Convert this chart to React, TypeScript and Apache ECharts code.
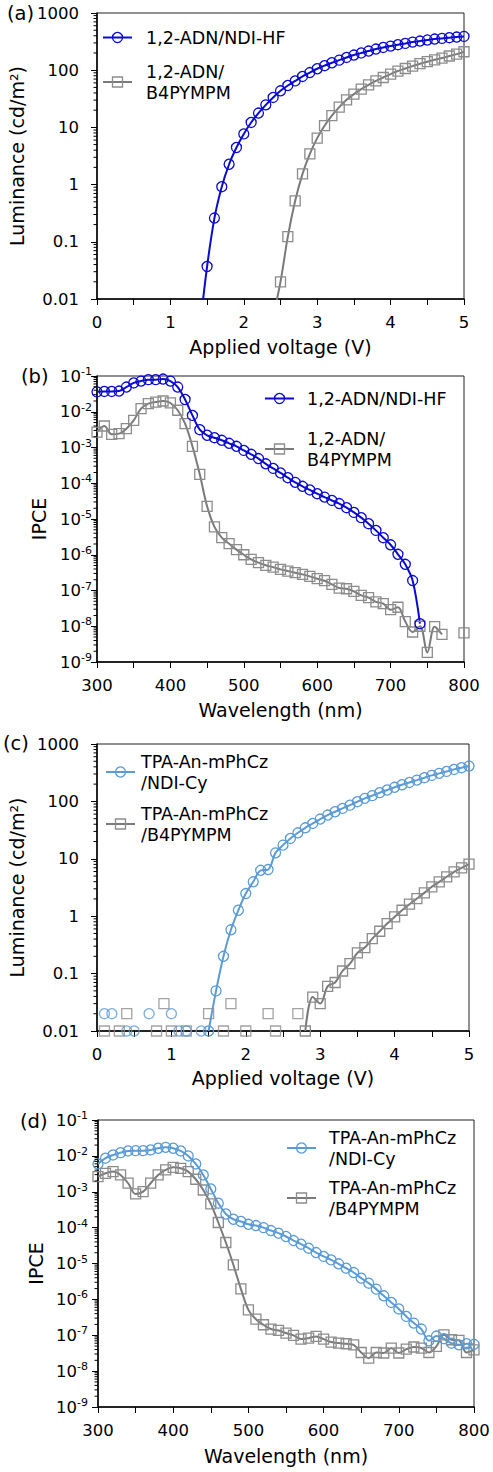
import React, { useEffect, useRef } from 'react';
import * as echarts from 'echarts';

const FONT = 'DejaVu Sans, Verdana, sans-serif';
const BLUE = '#0a0ad0';
const LBLUE = '#5b9bd5';
const GRAY = '#7a7a7a';
const GRAY_SYM = '#8c8c8c';

// ---------- (a) luminance, 1,2-ADN ----------
const aBlueV = [1.4, 1.5, 1.6, 1.7, 1.8, 1.9, 2.0, 2.1, 2.2, 2.3, 2.4, 2.5, 2.6, 2.7, 2.8, 2.9, 3.0, 3.1, 3.2, 3.3, 3.4, 3.5, 3.6, 3.7, 3.8, 3.9, 4.0, 4.1, 4.2, 4.3, 4.4, 4.5, 4.6, 4.7, 4.8, 4.9, 5.0];
const aBlueL = [0.003, 0.037, 0.26, 0.92, 2.27, 4.45, 7.7, 12.2, 17.8, 24.8, 33.4, 43.6, 54, 65, 77.8, 91, 106, 120, 135, 150, 167, 184, 200, 216, 234, 250, 264, 279, 294, 310, 323, 337, 350, 360, 370, 380, 390];
const aGrayV = [2.4, 2.5, 2.6, 2.7, 2.8, 2.9, 3.0, 3.1, 3.2, 3.3, 3.4, 3.5, 3.6, 3.7, 3.8, 3.9, 4.0, 4.1, 4.2, 4.3, 4.4, 4.5, 4.6, 4.7, 4.8, 4.9, 5.0];
const aGrayL = [0.005, 0.02, 0.123, 0.52, 1.54, 3.45, 6.5, 10.7, 16, 22.6, 30.4, 38.2, 46.8, 55.6, 65, 74.6, 85.5, 96.6, 107, 118, 130, 141, 152, 163, 177, 191, 210];

// ---------- (b) IPCE, 1,2-ADN ----------
const bBlueW = [300, 310, 320, 330, 340, 350, 360, 370, 380, 390, 400, 410, 420, 430, 440, 450, 460, 470, 480, 490, 500, 510, 520, 530, 540, 550, 560, 570, 580, 590, 600, 610, 620, 630, 640, 650, 660, 670, 680, 690, 700, 710, 720, 730, 740];
const bBlueI = [3.6e-2, 3.7e-2, 3.7e-2, 3.8e-2, 4.9e-2, 6.4e-2, 7.2e-2, 7.9e-2, 7.9e-2, 8.2e-2, 7.2e-2, 4.9e-2, 2.2e-2, 7.9e-3, 3.15e-3, 2.2e-3, 1.88e-3, 1.59e-3, 1.31e-3, 1.08e-3, 8.3e-4, 6.45e-4, 4.9e-4, 3.5e-4, 2.6e-4, 1.94e-4, 1.43e-4, 1.06e-4, 8.2e-5, 6.5e-5, 5.1e-5, 4.1e-5, 3.3e-5, 2.7e-5, 2.07e-5, 1.53e-5, 1.09e-5, 7.4e-6, 4.8e-6, 3.0e-6, 1.9e-6, 1.03e-6, 5.4e-7, 1.9e-7, 1.18e-8];
const bGrayW = [300, 310, 320, 330, 340, 350, 360, 370, 380, 390, 400, 410, 420, 430, 440, 450, 460, 470, 480, 490, 500, 510, 520, 530, 540, 550, 560, 570, 580, 590, 600, 610, 620, 630, 640, 650, 660, 670, 680, 690, 700, 710, 720, 730, 740, 750, 760, 770, 780, 790, 800];
const bGrayI = [2.7e-3, 4.0e-3, 2.33e-3, 2.44e-3, 3.36e-3, 5.75e-3, 1.22e-2, 1.68e-2, 1.87e-2, 2.0e-2, 1.76e-2, 1.1e-2, 4.65e-3, 1.08e-3, 1.78e-4, 2.26e-5, 6.0e-6, 3.0e-6, 2.04e-6, 1.39e-6, 1.0e-6, 7.4e-7, 6.0e-7, 5.06e-7, 4.5e-7, 3.9e-7, 3.5e-7, 3.15e-7, 2.83e-7, 2.49e-7, 2.14e-7, 1.88e-7, 1.49e-7, 1.17e-7, 1.12e-7, 9.5e-8, 7.3e-8, 6.3e-8, 4.8e-8, 4.3e-8, 2.9e-8, 3.4e-8, 1.35e-8, 6.9e-9, 1.0e-8, 1.85e-9, 9.7e-9, 5.9e-9, null, null, 6.5e-9];

// ---------- (c) luminance, TPA-An-mPhCz ----------
const cBlueV = [1.5, 1.6, 1.7, 1.8, 1.9, 2.0, 2.1, 2.2, 2.3, 2.4, 2.5, 2.6, 2.7, 2.8, 2.9, 3.0, 3.1, 3.2, 3.3, 3.4, 3.5, 3.6, 3.7, 3.8, 3.9, 4.0, 4.1, 4.2, 4.3, 4.4, 4.5, 4.6, 4.7, 4.8, 4.9, 5.0];
const cBlueL = [0.01, 0.05, 0.2, 0.58, 1.27, 2.48, 3.97, 6.3, 6.5, 12.7, 17.3, 22.6, 28.4, 34.7, 41.3, 49.2, 57.8, 66, 75.5, 86, 98.7, 113, 126, 142, 158, 176, 195, 214, 235, 259, 284, 308, 333, 361, 386, 413];
const cBlueNoiseV = [0.1, 0.2, 0.4, 0.5, 0.7, 1.0, 1.1, 1.2, 1.4];
const cBlueNoiseL = [0.02, 0.02, 0.01, 0.01, 0.02, 0.02, 0.01, 0.01, 0.01];
const cGrayV = [2.8, 2.9, 3.0, 3.1, 3.2, 3.3, 3.4, 3.5, 3.6, 3.7, 3.8, 3.9, 4.0, 4.1, 4.2, 4.3, 4.4, 4.5, 4.6, 4.7, 4.8, 4.9, 5.0];
const cGrayL = [0.01, 0.039, 0.03, 0.06, 0.07, 0.111, 0.149, 0.229, 0.284, 0.407, 0.547, 0.744, 0.97, 1.27, 1.62, 2.03, 2.55, 3.25, 3.97, 4.86, 5.93, 6.97, 8.07];
const cGrayNoiseV = [0.1, 0.3, 0.4, 0.8, 0.9, 1.0, 1.2, 1.5, 1.7, 1.8, 2.0, 2.3, 2.4, 2.7];
const cGrayNoiseL = [0.01, 0.01, 0.02, 0.01, 0.03, 0.01, 0.01, 0.02, 0.01, 0.03, 0.01, 0.02, 0.01, 0.02];

// ---------- (d) IPCE, TPA-An-mPhCz ----------
const dW = [300, 310, 320, 330, 340, 350, 360, 370, 380, 390, 400, 410, 420, 430, 440, 450, 460, 470, 480, 490, 500, 510, 520, 530, 540, 550, 560, 570, 580, 590, 600, 610, 620, 630, 640, 650, 660, 670, 680, 690, 700, 710, 720, 730, 740, 750, 760, 770, 780, 790, 800];
const dBlueI = [5.96e-3, 8.6e-3, 1.06e-2, 1.23e-2, 1.37e-2, 1.4e-2, 1.4e-2, 1.46e-2, 1.63e-2, 1.73e-2, 1.63e-2, 1.37e-2, 9.96e-3, 5.96e-3, 2.94e-3, 1.2e-3, 4.8e-4, 2.4e-4, 1.71e-4, 1.48e-4, 1.24e-4, 1.14e-4, 1.0e-4, 8.3e-5, 7.0e-5, 5.65e-5, 4.37e-5, 3.45e-5, 2.67e-5, 2.02e-5, 1.57e-5, 1.26e-5, 9.8e-6, 7.4e-6, 5.6e-6, 3.9e-6, 2.83e-6, 1.93e-6, 1.26e-6, 8.2e-7, 5.4e-7, 3.35e-7, 2.18e-7, 1.49e-7, 7.0e-8, 9.5e-8, 8.0e-8, 6.0e-8, 5.4e-8, 5.8e-8, 5.6e-8];
const dGrayI = [2.64e-3, 3.27e-3, 3.64e-3, 2.94e-3, 1.73e-3, 8.7e-4, 1.01e-3, 1.73e-3, 2.94e-3, 4.06e-3, 4.8e-3, 4.5e-3, 3.64e-3, 2.23e-3, 1.12e-3, 4.6e-4, 1.39e-4, 3.85e-5, 9.2e-6, 1.97e-6, 5.1e-7, 2.8e-7, 1.96e-7, 1.49e-7, 1.36e-7, 1.15e-7, 9.9e-8, 7.8e-8, 8.3e-8, 9.3e-8, 7.8e-8, 6.45e-8, 6.05e-8, 5.8e-8, 5.4e-8, 3.3e-8, 2.3e-8, 3.3e-8, 3.2e-8, 4.4e-8, 3.2e-8, 4.1e-8, 4.7e-8, 4.4e-8, 3.3e-8, 4.9e-8, 1.03e-7, 7.5e-8, 7.2e-8, 3.3e-8, 3.9e-8];

// tick labels
const lumTicks = ['0.01', '0.1', '1', '10', '100', '1000'];
const minorMultipliers = [2, 3, 4, 5, 6, 7, 8, 9];

const NAME_A1 = '1,2-ADN/NDI-HF';
const NAME_A2 = '1,2-ADN/\nB4PYMPM';
const NAME_C1 = 'TPA-An-mPhCz\n/NDI-Cy';
const NAME_C2 = 'TPA-An-mPhCz\n/B4PYMPM';

const zip = (xs: number[], ys: (number | null)[]) => xs.map((x, i) => [x, ys[i] == null ? '-' : ys[i]]);

const grids = [
  { left: 97, top: 13, width: 367, height: 286 },
  { left: 97, top: 376, width: 367, height: 286 },
  { left: 97, top: 744, width: 372, height: 287 },
  { left: 98, top: 1120, width: 376, height: 287 },
];

function minorValues(expMin: number, expMax: number) {
  const out: number[] = [];
  for (let e = expMin; e < expMax; e++) {
    for (const m of minorMultipliers) out.push(Number((m * Math.pow(10, e)).toPrecision(3)));
  }
  return out;
}

export default function App() {
  const ref = useRef<HTMLDivElement>(null);
  useEffect(() => {
    document.body.style.margin = '0';
    if (!ref.current) return;
    const chart = echarts.init(ref.current, undefined, { renderer: 'svg' });

    const tickLabel = { color: '#000', fontFamily: FONT, fontSize: 16.5 };
    const nameStyle = { color: '#000', fontFamily: FONT, fontSize: 19 };
    const axisLine = { show: true, lineStyle: { color: '#000', width: 1.5 } };
    const axisTick = { show: true, inside: false, length: 6, lineStyle: { color: '#000', width: 1 } };

    const lumFmt = (v: number) => {
      const e = Math.round(Math.log10(v));
      return lumTicks[e + 2] ?? '';
    };
    const expFmt = (v: number) => {
      const e = Math.round(Math.log10(v));
      return '{b|10}{s|' + e + '}';
    };
    const expRich = {
      b: { fontSize: 16.5, fontFamily: FONT, color: '#000', lineHeight: 20 },
      s: { fontSize: 11, fontFamily: FONT, color: '#000', verticalAlign: 'top', lineHeight: 12 },
    };

    const xVolt = (i: number, gap: number, labelMargin: number) => ({
      type: 'value', gridIndex: i, min: 0, max: 5, interval: 0.5,
      name: 'Applied voltage (V)', nameLocation: 'middle', nameGap: gap, nameTextStyle: nameStyle,
      axisLine, axisTick, splitLine: { show: false },
      axisLabel: { ...tickLabel, margin: labelMargin, formatter: (v: number) => (Math.abs(v - Math.round(v)) < 1e-6 ? String(Math.round(v)) : '') },
    });
    const xWave = (i: number, gap: number, labelMargin: number) => ({
      type: 'value', gridIndex: i, min: 300, max: 800, interval: 50,
      name: 'Wavelength (nm)', nameLocation: 'middle', nameGap: gap, nameTextStyle: nameStyle,
      axisLine, axisTick, splitLine: { show: false },
      axisLabel: { ...tickLabel, margin: labelMargin, formatter: (v: number) => (v % 100 === 0 ? String(v) : '') },
    });
    const yLum = (i: number, gap: number) => ({
      type: 'log', logBase: 10, gridIndex: i, min: 0.01, max: 1000, splitNumber: 5,
      name: 'Luminance (cd/m²)', nameLocation: 'middle', nameGap: gap, nameRotate: 90, nameTextStyle: nameStyle,
      axisLine, axisTick, splitLine: { show: false }, minorTick: { show: false },
      axisLabel: { ...tickLabel, margin: 18, formatter: lumFmt },
    });
    const yIpce = (i: number, gap: number, margin: number) => ({
      type: 'log', logBase: 10, gridIndex: i, min: 1e-9, max: 1e-1, splitNumber: 8,
      name: 'IPCE', nameLocation: 'middle', nameGap: gap, nameRotate: 90, nameTextStyle: nameStyle,
      axisLine, axisTick, splitLine: { show: false }, minorTick: { show: false },
      axisLabel: { ...tickLabel, margin, formatter: expFmt, rich: expRich },
    });

    const lineSeries = (name: string, i: number, data: any[], color: string, symColor: string, symbol: string, clip: boolean) => ({
      type: 'line', name, xAxisIndex: i, yAxisIndex: i, data,
      smooth: 0.35, clip, symbol, symbolSize: 10, showAllSymbol: true,
      lineStyle: { color, width: 2 },
      itemStyle: { color: 'rgba(0,0,0,0)', borderColor: symColor, borderWidth: 1.3 },
      emphasis: { disabled: true }, z: 3,
    });
    const noiseSeries = (name: string, i: number, data: any[], symColor: string, symbol: string) => ({
      type: 'scatter', name, xAxisIndex: i, yAxisIndex: i, data, clip: false,
      symbol, symbolSize: 10,
      itemStyle: { color: 'rgba(0,0,0,0)', borderColor: symColor, borderWidth: 1.3 },
      emphasis: { disabled: true }, z: 3,
    });
    const minorTickSeries = (i: number, xMin: number, vals: number[]) => ({
      type: 'custom', xAxisIndex: i, yAxisIndex: i, silent: true, clip: false, z: 10,
      encode: { x: 0, y: 1 },
      data: vals.map((v) => [xMin, v]),
      renderItem: (_p: any, api: any) => {
        const pt = api.coord([api.value(0), api.value(1)]);
        return { type: 'line', shape: { x1: pt[0] - 3.5, y1: pt[1], x2: pt[0], y2: pt[1] }, style: { stroke: '#000', lineWidth: 1 } };
      },
    });

    const legend = (names: string[], left: number, top: number, gap: number, textPad: number) => ({
      data: names, orient: 'vertical', left, top, padding: 0, itemGap: gap,
      itemWidth: 29, itemHeight: 12.5, selectedMode: false,
      itemStyle: { borderWidth: 1.3 },
      textStyle: { color: '#000', fontFamily: FONT, fontSize: 17.5, lineHeight: 21, padding: [0, 0, 0, textPad] },
    });

    const labelText = (text: string, x: number, y: number) => ({
      type: 'text', left: x, top: y,
      style: { text, fontFamily: FONT, fontSize: 19.5, fill: '#000' },
    });

    const option: any = {
      animation: false,
      backgroundColor: '#fff',
      grid: grids.map((g) => ({ ...g, show: true, borderColor: '#222', borderWidth: 1, backgroundColor: 'rgba(0,0,0,0)', containLabel: false, outerBoundsMode: 'none' })),
      xAxis: [xVolt(0, 38, 15), xWave(1, 38, 15), xVolt(2, 37, 15), xWave(3, 39, 15)],
      yAxis: [yLum(0, 67), yIpce(1, 49, 5), yLum(2, 67), yIpce(3, 47, 10)],
      legend: [
        legend([NAME_A1, NAME_A2], 102, 27, 13, 9),
        legend([NAME_A1, NAME_A2], 264, 388, 19, 8),
        legend([NAME_C1, NAME_C2], 105, 751, 10, 1),
        legend([NAME_C1, NAME_C2], 286, 1127, 8, 8),
      ],
      graphic: [
        labelText('(a)', 7, 3),
        labelText('(b)', 21, 366),
        labelText('(c)', 3, 733),
        labelText('(d)', 20, 1111),
      ],
      series: [
        lineSeries(NAME_A2, 0, zip(aGrayV, aGrayL), GRAY, GRAY_SYM, 'rect', true),
        lineSeries(NAME_A1, 0, zip(aBlueV, aBlueL), BLUE, BLUE, 'circle', true),
        lineSeries(NAME_A2, 1, zip(bGrayW, bGrayI), GRAY, GRAY_SYM, 'rect', false),
        lineSeries(NAME_A1, 1, zip(bBlueW, bBlueI), BLUE, BLUE, 'circle', false),
        lineSeries(NAME_C2, 2, zip(cGrayV, cGrayL), GRAY, GRAY_SYM, 'rect', false),
        lineSeries(NAME_C1, 2, zip(cBlueV, cBlueL), LBLUE, LBLUE, 'circle', false),
        noiseSeries('c-gray-floor', 2, zip(cGrayNoiseV, cGrayNoiseL), GRAY_SYM, 'rect'),
        noiseSeries('c-blue-floor', 2, zip(cBlueNoiseV, cBlueNoiseL), LBLUE, 'circle'),
        lineSeries(NAME_C2, 3, zip(dW, dGrayI), GRAY, GRAY_SYM, 'rect', false),
        lineSeries(NAME_C1, 3, zip(dW, dBlueI), LBLUE, LBLUE, 'circle', false),
        minorTickSeries(0, 0, minorValues(-2, 3)),
        minorTickSeries(1, 300, minorValues(-9, -1)),
        minorTickSeries(2, 0, minorValues(-2, 3)),
        minorTickSeries(3, 300, minorValues(-9, -1)),
      ],
    };
    chart.setOption(option);
    return () => chart.dispose();
  }, []);
  return <div ref={ref} style={{ width: 493, height: 1472 }} />;
}
